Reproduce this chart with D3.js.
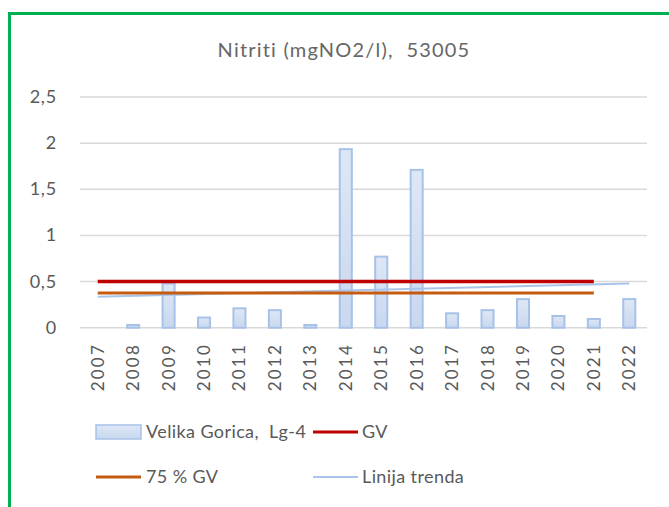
<!DOCTYPE html>
<html lang="hr">
<head>
<meta charset="UTF-8">
<title>Nitriti (mgNO2/l), 53005</title>
<script src="https://d3js.org/d3.v7.min.js"></script>
<style>
  body { margin: 0; background: #fff; }
  svg text { font-family: Lato, "Open Sans", sans-serif; fill: #595959; white-space: pre; }
</style>
</head>
<body>
<svg width="669" height="507"></svg>
<script>
// data
const years = ["2007","2008","2009","2010","2011","2012","2013","2014","2015","2016","2017","2018","2019","2020","2021","2022"]
const nitriti = [0, 0.03, 0.48, 0.11, 0.21, 0.19, 0.03, 1.935, 0.77, 1.71, 0.156, 0.19, 0.31, 0.127, 0.094, 0.31]
const gvYears = ["2007", "2021"]
const gv = [0.5, 0.5]
const gv75 = [0.375, 0.375]
const trendYears = ["2007", "2022"]
const trend = [0.335, 0.48]
const yTicks = [0, 0.5, 1, 1.5, 2, 2.5]

const svg = d3.select("svg")
const margin = {left: 80, right: 647, top: 97, bottom: 327.7}

// green frame, runs off right and bottom
svg.append("rect").attr("x", 9.5).attr("y", 13.5).attr("width", 700).attr("height", 600)
    .attr("fill", "none").attr("stroke", "#00B050").attr("stroke-width", 3)

svg.append("text").attr("x", 344).attr("y", 57).attr("text-anchor", "middle")
    .style("font-size", "20px").style("letter-spacing", "1.2px").style("fill", "#666")
    .text("Nitriti (mgNO2/l),  53005")

let x = d3.scaleBand().domain(years).range([margin.left, margin.right]).paddingInner(0.66).paddingOuter(0.33)
let y = d3.scaleLinear().domain([0, 2.5]).range([margin.bottom, margin.top])
let cx = d => x(d) + x.bandwidth() / 2

let fmt = d => String(d).replace(".", ",")

// gridlines
svg.append("g").selectAll("line").data(yTicks).enter().append("line")
    .attr("x1", margin.left).attr("x2", margin.right)
    .attr("y1", d => y(d)).attr("y2", d => y(d))
    .attr("stroke", "#D9D9D9").attr("stroke-width", 1.5)

svg.append("g").selectAll("text").data(yTicks).enter().append("text")
    .attr("x", 57).attr("y", d => y(d) + 6).attr("text-anchor", "end")
    .style("font-size", "18px").style("letter-spacing", "0.8px").text(fmt)

// bars
let grad = svg.append("defs").append("linearGradient").attr("id", "barg")
    .attr("x1", 0).attr("x2", 0).attr("y1", 0).attr("y2", 1)
grad.append("stop").attr("offset", "0%").attr("stop-color", "#DEE7F5")
grad.append("stop").attr("offset", "100%").attr("stop-color", "#C9D8EF")

let barData = years.map((yr, i) => ({year: yr, v: nitriti[i]})).filter(d => d.v > 0)

svg.append("g").selectAll("rect").data(barData).enter().append("rect")
    .attr("x", d => x(d.year))
    .attr("y", d => y(d.v)).attr("width", x.bandwidth())
    .attr("height", d => y(0) - y(d.v))
    .attr("fill", "url(#barg)").attr("stroke", "#A7C2E8").attr("stroke-width", 2)

// lines
let line = (xs, ys, color, w) => svg.append("line")
    .attr("x1", cx(xs[0])).attr("x2", cx(xs[1]))
    .attr("y1", y(ys[0])).attr("y2", y(ys[1]))
    .attr("stroke", color).attr("stroke-width", w)

line(trendYears, trend, "#A9C4EB", 2)
line(gvYears, gv75, "#C55A11", 3)
line(gvYears, gv, "#C00000", 3.5)

// x labels
svg.append("g").selectAll("text").data(years).enter().append("text")
    .attr("transform", d => `translate(${cx(d) + 6},343) rotate(-90)`)
    .attr("text-anchor", "end").style("font-size", "17px").style("letter-spacing", "2.2px")
    .text(d => d)

// legend
let lg = svg.append("g").style("font-size", "18px").style("letter-spacing", "0.4px")
lg.append("rect").attr("x", 96).attr("y", 425).attr("width", 45).attr("height", 14)
    .attr("fill", "url(#barg)").attr("stroke", "#A7C2E8").attr("stroke-width", 1.5)
lg.append("text").attr("x", 146).attr("y", 438).text("Velika Gorica,  Lg-4")
lg.append("line").attr("x1", 313).attr("x2", 358).attr("y1", 432).attr("y2", 432)
    .attr("stroke", "#C00000").attr("stroke-width", 3)
lg.append("text").attr("x", 362).attr("y", 438).text("GV")
lg.append("line").attr("x1", 96).attr("x2", 141).attr("y1", 477).attr("y2", 477)
    .attr("stroke", "#C55A11").attr("stroke-width", 3)
lg.append("text").attr("x", 146).attr("y", 483).text("75 % GV")
lg.append("line").attr("x1", 313).attr("x2", 358).attr("y1", 477).attr("y2", 477)
    .attr("stroke", "#A9C4EB").attr("stroke-width", 2)
lg.append("text").attr("x", 362).attr("y", 483).text("Linija trenda")
</script>
</body>
</html>
